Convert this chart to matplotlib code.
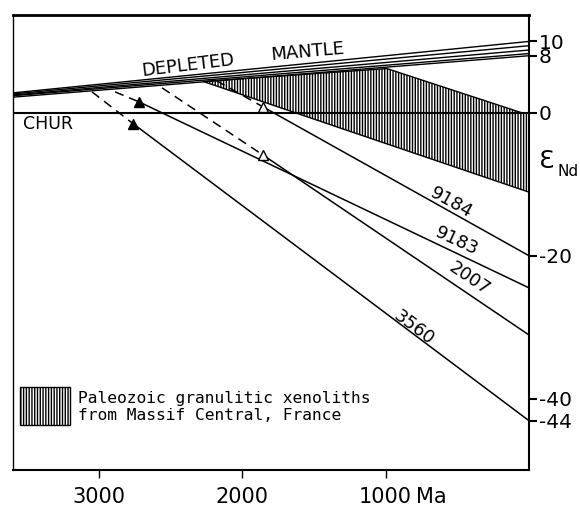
import matplotlib
matplotlib.use("Agg")
import matplotlib.pyplot as plt
from matplotlib.patches import Rectangle

plt.rcParams["hatch.linewidth"] = 1.0

# depleted mantle fan: eps at 3600 Ma and at 0 Ma
dm_start = [2.2, 2.4, 2.5, 2.65, 2.8]
dm_end = [8.0, 8.3, 8.8, 9.4, 10.0]

# samples: dashed model-age part, triangle, solid part to present
samples = ["9184", "9183", "2007", "3560"]
dash_age = [2180, 2888, 2560, 3049]
dash_eps = [4.5, 2.94, 3.5, 2.94]
tri_age = [1856, 2721, 1856, 2763]
tri_eps = [0.84, 1.54, -5.9, -1.5]
tri_filled = [False, True, False, True]
end_eps = [-20.0, -24.5, -31.1, -43.1]

# label positions (age, eps, rotation)
lab_age = [545, 505, 420, 805]
lab_eps = [-12.6, -18.0, -23.2, -30.1]
lab_rot = [-29, -25, -34, -37]

# hatched field of the Paleozoic xenoliths
hatch_age = [2274, 991, 49, 0, 0]
hatch_eps = [4.4, 6.2, 0.0, 0.0, -11.1]

xticks = [3000, 2000, 1000]
# the -44 mark sits a little high in the original drawing
yticks = [10, 8, 0, -20, -40, -43.1]
ytick_labels = ["10", "8", "0", "-20", "-40", "-44"]

fig = plt.figure(figsize=(5.8, 5.07), dpi=100)
ax = fig.add_axes([13 / 580, 37 / 507, 516 / 580, 455 / 507])
ax.set_xlim(3600, 0)
ax.set_ylim(-50, 13.7)

ax.fill(hatch_age, hatch_eps, facecolor="white", edgecolor="black",
        hatch="||||||", lw=1.0, zorder=1)

for s, e in zip(dm_start, dm_end):
    ax.plot([3600, 0], [s, e], color="black", lw=1.0, zorder=3)

ax.axhline(0, color="black", lw=1.5, zorder=3)

for i in range(len(samples)):
    ax.plot([dash_age[i], tri_age[i]], [dash_eps[i], tri_eps[i]],
            color="black", lw=1.1, ls=(0, (6, 4)), zorder=3)
    ax.plot([tri_age[i], 0], [tri_eps[i], end_eps[i]], color="black",
            lw=1.1, zorder=3)
    ax.plot(tri_age[i], tri_eps[i], marker="^", ms=7, mec="black", mew=1.0,
            mfc="black" if tri_filled[i] else "white", zorder=4)
    ax.text(lab_age[i], lab_eps[i], samples[i], rotation=lab_rot[i],
            ha="center", va="center", fontsize=13, zorder=5)

ax.text(2380, 6.6, "DEPLETED", rotation=7, ha="center", va="center",
        fontsize=13)
ax.text(1542, 8.5, "MANTLE", rotation=5, ha="center", va="center",
        fontsize=13)
ax.text(3530, -1.6, "CHUR", ha="left", va="center", fontsize=12.5)

# legend
ax.add_patch(Rectangle((0.0136, 0.10), 0.097, 0.083, transform=ax.transAxes,
                       facecolor="white", edgecolor="black", hatch="||||||",
                       lw=1.0))
ax.text(0.126, 0.158, "Paleozoic granulitic xenoliths", transform=ax.transAxes,
        family="DejaVu Sans Mono", fontsize=11.7, va="center")
ax.text(0.126, 0.12, "from Massif Central, France", transform=ax.transAxes,
        family="DejaVu Sans Mono", fontsize=11.7, va="center")

# axes and ticks
ax.spines["top"].set_linewidth(2.0)
ax.spines["right"].set_linewidth(1.5)
ax.spines["bottom"].set_linewidth(1.5)
ax.spines["left"].set_linewidth(1.0)

ax.set_xticks(xticks)
ax.set_xticklabels([str(t) for t in xticks])
ax.tick_params(axis="x", direction="out", length=6, width=1, labelsize=15,
               pad=6)
ax.yaxis.tick_right()
ax.set_yticks(yticks)
ax.set_yticklabels(ytick_labels)
ax.tick_params(axis="y", direction="out", length=6, width=1.5, labelsize=14.5,
               pad=1)

ax.text(1.02, 0.68, "\u0190", transform=ax.transAxes, fontsize=18,
        ha="left", va="center")
ax.text(1.055, 0.657, "Nd", transform=ax.transAxes, fontsize=11,
        ha="left", va="center")
ax.text(0.81, -0.06, "Ma", transform=ax.transAxes, fontsize=15,
        ha="center", va="center")

fig.savefig("out.png", dpi=100)
